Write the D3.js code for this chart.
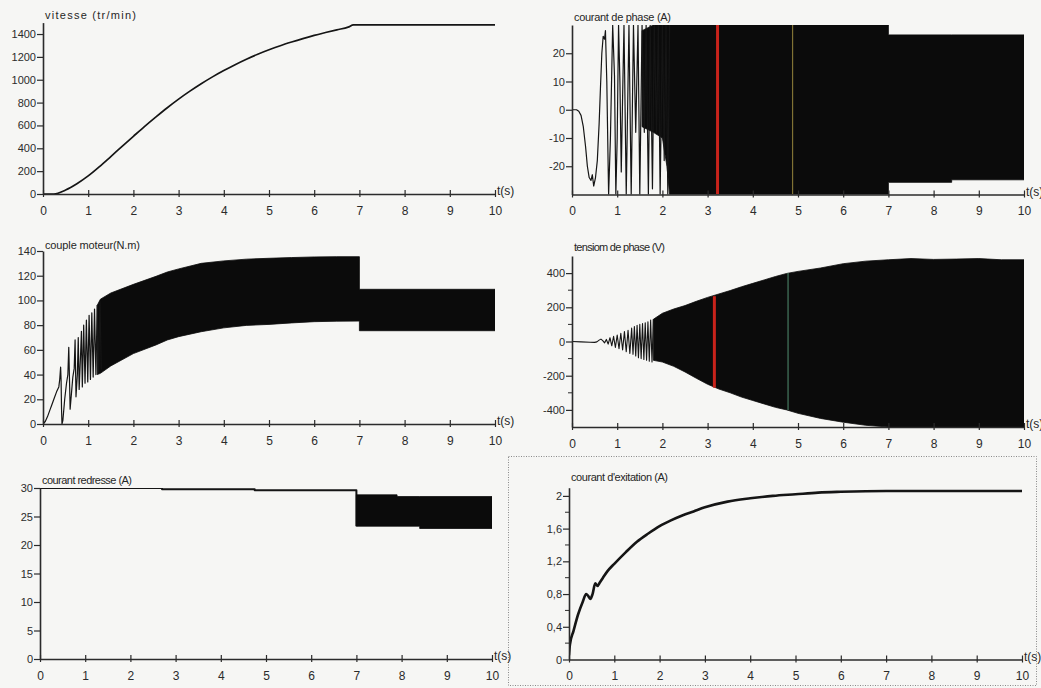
<!DOCTYPE html>
<html lang="fr">
<head>
<meta charset="utf-8">
<title>Démarrage moteur - simulation</title>
<script src="https://d3js.org/d3.v7.min.js"></script>
<style>
	html, body { margin: 0; padding: 0; background: #f6f6f4; }
	.c-svg { width: 1041px; height: 688px; overflow: hidden; }
	svg text { font-family: "Liberation Sans", Arial, sans-serif; }
</style>
</head>
<body>
<div class="c-svg"></div>
<script>
//DONNEES
//-------------------------------------------------------------------------

//axe du temps (s)
const tTicks = [0, 1, 2, 3, 4, 5, 6, 7, 8, 9, 10];

//graduations verticales
const vitesseTicks = [0, 200, 400, 600, 800, 1000, 1200, 1400];
const phaseTicks = [-20, -10, 0, 10, 20];
const coupleTicks = [0, 20, 40, 60, 80, 100, 120, 140];
const tensionTicks = [-400, -200, 0, 200, 400];
const tensionMinor = [-300, -100, 100, 300];
const redresseTicks = [0, 5, 10, 15, 20, 25, 30];
const excitTicks = [0, 0.4, 0.8, 1.2, 1.6, 2];
const excitMinor = [0.2, 0.6, 1.0, 1.4, 1.8];

//vitesse (tr/min)
const vitesseT = [0, 0.24, 0.5, 0.75, 1.0, 1.25, 1.5, 1.75, 2.0, 2.25, 2.5, 2.75, 3.0, 3.25, 3.5, 3.75, 4.0, 4.25, 4.5, 4.75, 5.0, 5.25, 5.5, 5.75, 6.0, 6.25, 6.5, 6.75, 6.87, 10];
const vitesseV = [0, 0, 35, 90, 158, 240, 328, 417, 505, 592, 675, 755, 830, 900, 965, 1025, 1080, 1132, 1180, 1223, 1262, 1298, 1330, 1360, 1388, 1413, 1437, 1460, 1480, 1480];

//courant de phase (A) : debut lisible puis enveloppe
const phaseT = [0, 0.1, 0.15, 0.2, 0.25, 0.3, 0.34, 0.38, 0.42, 0.45, 0.48, 0.52, 0.56, 0.6, 0.63, 0.66, 0.69, 0.72, 0.74, 0.77, 0.81, 0.85, 0.9, 0.94, 0.97, 1.0, 1.03, 1.06, 1.09, 1.12, 1.15, 1.2, 1.26, 1.31, 1.36, 1.41, 1.46, 1.5, 1.55, 1.6, 1.64, 1.69, 1.73, 1.78, 1.82, 1.87, 1.91, 1.95, 2.0, 2.04, 2.08, 2.12, 2.16];
const phaseI = [0, 0, -0.5, -2, -6, -13, -20, -24, -25, -23, -27, -24, -18, -5, 8, 20, 26, 25, 28, 10, -30, -10, 30, 12, -30, -10, 30, 10, -22, 5, 30, -30, 30, -30, 30, -8, 30, -30, 30, -8, 30, -30, 30, -28, 30, -8, 30, -30, 30, -18, 30, -30, 30];
const phaseEnvT = [1.55, 1.8, 2.0, 2.1, 2.16, 7.0, 7.0, 8.4, 8.4, 10];
const phaseEnvHaut = [28, 30, 30, 30, 30, 30, 26.5, 26.5, 26.5, 26.5];
const phaseEnvBas = [-6, -8, -10, -20, -30, -30, -25.7, -25.7, -24.8, -24.8];
const phaseTraceT = [3.22, 4.88];
const phaseTraceHaut = [30, 30];
const phaseTraceBas = [-30, -30];

//couple moteur (N.m)
const coupleT = [0, 0.05, 0.1, 0.15, 0.2, 0.25, 0.3, 0.35, 0.37, 0.39, 0.4, 0.41, 0.42, 0.44, 0.48, 0.52, 0.55, 0.57, 0.59, 0.6, 0.63, 0.66, 0.69, 0.71, 0.73, 0.76, 0.78, 0.8, 0.83, 0.85, 0.87, 0.9, 0.93, 0.96, 0.99, 1.02, 1.05, 1.08, 1.11, 1.14, 1.17, 1.2, 1.23, 1.26, 1.29];
const coupleV = [0, 2, 6, 11, 16, 21, 26, 30, 36, 46, 36, 12, 0, 3, 20, 33, 40, 62, 30, 12, 25, 38, 45, 68, 22, 40, 70, 28, 55, 75, 30, 80, 33, 84, 34, 88, 36, 90, 38, 93, 40, 96, 42, 99, 44];
const coupleEnvT = [1.2, 1.27, 1.5, 2.0, 2.5, 2.75, 3.0, 3.5, 4.0, 4.5, 5.0, 5.5, 6.0, 6.5, 7.0, 7.0, 10];
const coupleEnvHaut = [96, 101, 106, 113, 119.5, 123, 125.5, 130, 132, 133.4, 134.1, 134.7, 135.2, 135.4, 135.4, 109, 109];
const coupleEnvBas = [40, 41, 47, 57, 64, 68, 70.7, 74.7, 77.8, 79.8, 80.6, 81.8, 82.8, 83.2, 83.3, 75.5, 75.5];

//tension de phase (V)
const tensionT = [0, 0.2, 0.4, 0.5, 0.55, 0.6, 0.64, 0.68, 0.72, 0.76, 0.8, 0.84, 0.88, 0.92, 0.96, 1.0, 1.04, 1.08, 1.12, 1.16, 1.2, 1.24, 1.28, 1.32, 1.35, 1.38, 1.41, 1.44, 1.47, 1.5, 1.53, 1.56, 1.59, 1.62, 1.65, 1.68, 1.71, 1.74, 1.77, 1.8];
const tensionV = [0, -2, -4, -5, -2, 8, 14, 5, -8, 12, -15, 22, -25, 30, -35, 38, -42, 48, -50, 58, -60, 66, -70, 78, -75, 88, -85, 95, -95, 100, -100, 105, -105, 110, -110, 115, -115, 125, -120, 130];
const tensionEnvT = [1.8, 2.0, 2.25, 2.5, 2.75, 3.0, 3.25, 3.5, 3.75, 4.0, 4.25, 4.5, 4.75, 5.0, 5.5, 6.0, 6.5, 7.0, 7.5, 8.0, 8.5, 9.0, 9.5, 10];
const tensionEnvHaut = [130, 165, 190, 210, 235, 258, 278, 298, 320, 340, 360, 380, 398, 410, 430, 455, 470, 478, 485, 480, 482, 485, 478, 478];
const tensionEnvBas = [-110, -120, -145, -178, -215, -250, -278, -300, -325, -345, -365, -385, -400, -420, -450, -472, -490, -500, -500, -500, -500, -500, -500, -500];
const tensionTraceT = [3.15, 4.78];
const tensionTraceHaut = [265, 400];
const tensionTraceBas = [-270, -400];

//courant redresse (A)
const redresseT = [0, 2.7, 2.7, 4.75, 4.75, 7.0, 7.0];
const redresseV = [30, 30, 29.8, 29.8, 29.6, 29.6, 23.3];
const redresseEnvT = [7.0, 7.9, 7.9, 8.4, 8.4, 10];
const redresseEnvHaut = [28.8, 28.8, 28.5, 28.5, 28.5, 28.5];
const redresseEnvBas = [23.3, 23.3, 23.3, 23.3, 22.9, 22.9];

//courant d'excitation (A)
const excitT = [0, 0.02, 0.1, 0.2, 0.3, 0.38, 0.42, 0.47, 0.52, 0.58, 0.63, 0.68, 0.75, 0.85, 1.0, 1.25, 1.5, 1.75, 2.0, 2.25, 2.5, 2.75, 3.0, 3.5, 4.0, 4.5, 5.0, 5.5, 6.0, 7.0, 8.0, 10];
const excitV = [0.05, 0.18, 0.35, 0.55, 0.7, 0.8, 0.78, 0.74, 0.8, 0.93, 0.9, 0.94, 1.0, 1.08, 1.17, 1.31, 1.44, 1.54, 1.63, 1.7, 1.76, 1.81, 1.86, 1.93, 1.97, 2.0, 2.02, 2.04, 2.05, 2.06, 2.06, 2.06];


//MISE EN PAGE
//-------------------------------------------------------------------------

const fmtTiret = d => String(d);
const fmtVirgule = d => String(d).replace(".", ",");

const panels = [
	{key: "vitesse", title: "vitesse (tr/min)", titleW: 91, titleY: 19, xr: [43, 495], yr: [194, 22.6], dom: [0, 1500], ticks: vitesseTicks, minor: [], fmt: fmtTiret},
	{key: "phase", title: "courant de phase (A)", titleW: 97, titleY: 21, xr: [572, 1024], yr: [194.5, 25], dom: [-30, 30], ticks: phaseTicks, minor: [], fmt: fmtTiret},
	{key: "couple", title: "couple moteur(N.m)", titleW: 95, titleY: 249, xr: [43, 495], yr: [424, 251], dom: [0, 140], ticks: coupleTicks, minor: [], fmt: fmtTiret},
	{key: "tension", title: "tensiom de phase (V)", titleW: 91, titleY: 251, xr: [572, 1024], yr: [427, 256], dom: [-500, 500], ticks: tensionTicks, minor: tensionMinor, fmt: fmtTiret},
	{key: "redresse", title: "courant redresse (A)", titleW: 90, titleY: 484, xr: [40, 492], yr: [659, 488], dom: [0, 30], ticks: redresseTicks, minor: [], fmt: fmtTiret},
	{key: "excitation", title: "courant d'exitation (A)", titleW: 97, titleY: 481, xr: [569, 1022], yr: [659.5, 487.7], dom: [0, 2.1], ticks: excitTicks, minor: excitMinor, fmt: fmtVirgule}
];

const ink = "#151515";
const axisInk = "#2b2b2b";

const svg = d3.select(".c-svg")
	.append("svg")
	.attr("width", 1041)
	.attr("height", 688);

svg.append("rect")
	.attr("width", 1041)
	.attr("height", 688)
	.attr("fill", "#f6f6f4");

const defs = svg.append("defs");

//cadre pointille du dernier graphe
svg.append("rect")
	.attr("x", 508.5)
	.attr("y", 456.5)
	.attr("width", 528)
	.attr("height", 229)
	.attr("fill", "none")
	.attr("stroke", "#8a8a8a")
	.attr("stroke-width", 1)
	.attr("stroke-dasharray", "1,1.5");


//PANNEAUX
//-------------------------------------------------------------------------

panels.forEach(p => {
	p.sx = d3.scaleLinear().domain([0, 10]).range(p.xr);
	p.sy = d3.scaleLinear().domain(p.dom).range(p.yr);

	defs.append("clipPath")
		.attr("id", "clip-" + p.key)
		.append("rect")
		.attr("x", p.xr[0])
		.attr("y", p.yr[1])
		.attr("width", p.xr[1] - p.xr[0])
		.attr("height", p.yr[0] - p.yr[1]);

	p.g = svg.append("g").attr("id", "g-" + p.key);
	p.plot = p.g.append("g").attr("clip-path", `url(#clip-${p.key})`);
});

function drawLine(p, T, V, width, curve){
	const line = d3.line()
		.x((d, i) => p.sx(T[i]))
		.y(d => p.sy(d))
		.curve(curve || d3.curveLinear);
	p.plot.append("path")
		.datum(V)
		.attr("d", line)
		.attr("fill", "none")
		.attr("stroke", ink)
		.attr("stroke-width", width)
		.attr("stroke-linejoin", "round");
}

function drawBand(p, T, haut, bas){
	const area = d3.area()
		.x((d, i) => p.sx(T[i]))
		.y0((d, i) => p.sy(bas[i]))
		.y1(d => p.sy(d));
	p.plot.append("path")
		.datum(haut)
		.attr("d", area)
		.attr("fill", "#0b0b0b")
		.attr("stroke", "#0b0b0b")
		.attr("stroke-width", 0.8);
}

function drawTraces(p, T, haut, bas, colors, widths){
	p.plot.selectAll(".trace")
		.data(T)
		.join("line")
		.attr("class", "trace")
		.attr("x1", d => p.sx(d))
		.attr("x2", d => p.sx(d))
		.attr("y1", (d, i) => p.sy(haut[i]))
		.attr("y2", (d, i) => p.sy(bas[i]))
		.attr("stroke", (d, i) => colors[i])
		.attr("stroke-width", (d, i) => widths[i]);
}

const byKey = Object.fromEntries(panels.map(p => [p.key, p]));

drawLine(byKey.vitesse, vitesseT, vitesseV, 1.7, d3.curveMonotoneX);

drawBand(byKey.phase, phaseEnvT, phaseEnvHaut, phaseEnvBas);
drawLine(byKey.phase, phaseT, phaseI, 1.2);
drawTraces(byKey.phase, phaseTraceT, phaseTraceHaut, phaseTraceBas, ["#c8231b", "#807234"], [3, 1.2]);

drawBand(byKey.couple, coupleEnvT, coupleEnvHaut, coupleEnvBas);
drawLine(byKey.couple, coupleT, coupleV, 1.2);

drawBand(byKey.tension, tensionEnvT, tensionEnvHaut, tensionEnvBas);
drawLine(byKey.tension, tensionT, tensionV, 1.1);
drawTraces(byKey.tension, tensionTraceT, tensionTraceHaut, tensionTraceBas, ["#c8231b", "#3f6b55"], [3, 1.4]);

drawLine(byKey.redresse, redresseT, redresseV, 2);
drawBand(byKey.redresse, redresseEnvT, redresseEnvHaut, redresseEnvBas);

drawLine(byKey.excitation, excitT, excitV, 2.6, d3.curveMonotoneX);


//AXES
//-------------------------------------------------------------------------

panels.forEach(p => {
	const yBase = p.sy(p.dom[0]);

	//axe du temps
	const xAxis = p.g.append("g")
		.attr("transform", `translate(0 ${yBase})`)
		.call(d3.axisBottom(p.sx).tickValues(tTicks).tickSize(3).tickSizeOuter(0).tickPadding(9));
	xAxis.attr("font-family", null).attr("font-size", 12).attr("color", axisInk);
	xAxis.select(".domain").attr("stroke-width", 1.6);
	xAxis.selectAll(".tick line").attr("y1", -4).attr("stroke-width", 1.2);

	//axe vertical
	const yAxis = p.g.append("g")
		.attr("transform", `translate(${p.xr[0]} 0)`)
		.call(d3.axisLeft(p.sy).tickValues(p.ticks).tickSize(6).tickSizeOuter(0).tickPadding(1).tickFormat(p.fmt));
	yAxis.attr("font-family", null).attr("font-size", 11).attr("color", axisInk);
	yAxis.select(".domain").attr("stroke-width", 1.6);
	yAxis.selectAll(".tick line").attr("stroke-width", 1.2);

	yAxis.selectAll(".minor")
		.data(p.minor)
		.join("line")
		.attr("class", "minor")
		.attr("x1", -4)
		.attr("x2", 0)
		.attr("y1", d => p.sy(d))
		.attr("y2", d => p.sy(d))
		.attr("stroke", axisInk)
		.attr("stroke-width", 1);

	//titre
	p.g.append("text")
		.attr("x", p.xr[0] + 2)
		.attr("y", p.titleY)
		.attr("font-size", 11)
		.attr("fill", "#262626")
		.attr("textLength", p.titleW)
		.attr("lengthAdjust", "spacing")
		.text(p.title);

	//unite du temps (coupee au bord droit comme sur l'original)
	p.g.append("text")
		.attr("x", p.xr[1] + 2)
		.attr("y", yBase + 1)
		.attr("font-size", 12)
		.attr("fill", "#262626")
		.text("t(s)");
});
</script>
</body>
</html>
